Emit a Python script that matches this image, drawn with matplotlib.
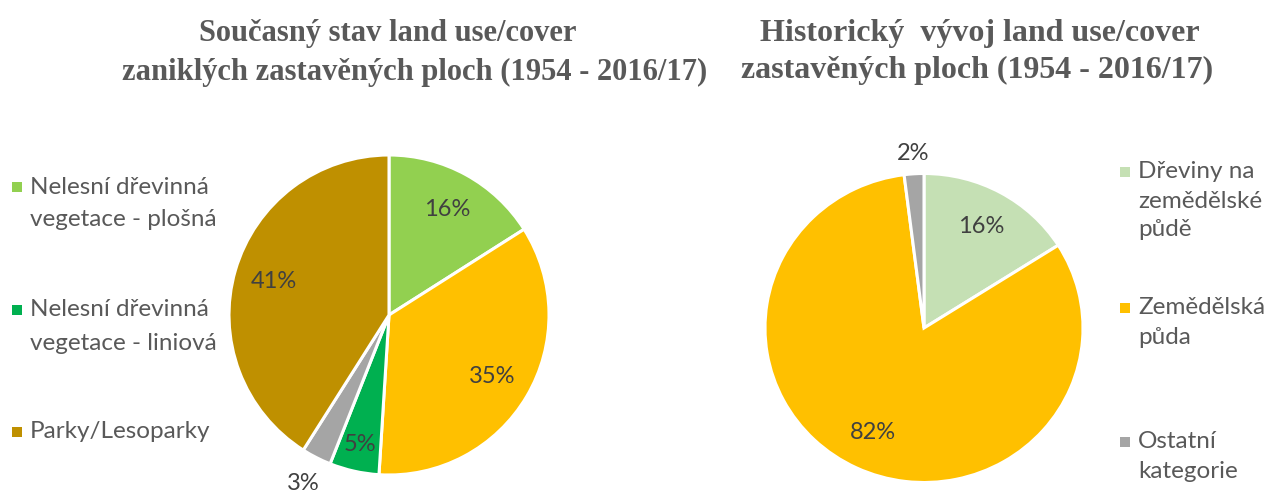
import matplotlib
matplotlib.use("Agg")
import numpy as np
import matplotlib.pyplot as plt
from matplotlib.patches import Rectangle

# --- data ---------------------------------------------------------------
left_title = ["Současný stav land use/cover",
              "zaniklých zastavěných ploch (1954 - 2016/17)"]
left_labels = ["Nelesní dřevinná vegetace - plošná", "Zemědělská půda",
               "Nelesní dřevinná vegetace - liniová", "Ostatní kategorie",
               "Parky/Lesoparky"]
left_values = [16, 35, 5, 3, 41]
left_colors = ["#92D050", "#FFC000", "#00B050", "#A5A5A5", "#BF9000"]

right_title = ["Historický  vývoj land use/cover",
               "zastavěných ploch (1954 - 2016/17)"]
right_labels = ["Dřeviny na zemědělské půdě", "Zemědělská půda", "Ostatní kategorie"]
right_values = [16, 82, 2]
right_colors = ["#C5E0B4", "#FFC000", "#A5A5A5"]

# legend entries (wrapped as in the original)
left_legend = [(0, ["Nelesní dřevinná", "vegetace - plošná"]),
               (2, ["Nelesní dřevinná", "vegetace - liniová"]),
               (4, ["Parky/Lesoparky"])]
right_legend = [(0, ["Dřeviny na", "zemědělské", "půdě"]),
                (1, ["Zemědělská", "půda"]),
                (2, ["Ostatní", "kategorie"])]

W, H = 1270, 493
fig = plt.figure(figsize=(W / 100, H / 100), dpi=100)
fig.patch.set_facecolor("white")

TXT = "#595959"
PCT = "#404040"


def fx(x):
    return x / W


def fy(y):
    return 1 - y / H


def draw_pie(cx, cy, rx, ry, values, colors, special):
    ax = fig.add_axes([fx(cx - rx), (H - cy - ry) / H, 2 * rx / W, 2 * ry / H])
    wedges, texts, autotexts = ax.pie(
        values, colors=colors, startangle=90, counterclock=False,
        autopct="%.0f%%", pctdistance=0.75,
        wedgeprops=dict(edgecolor="white", linewidth=2.2),
        textprops=dict(color=PCT, fontsize=17, family="Lato"))
    ax.set_aspect("auto")
    ax.set_xlim(-1, 1)
    ax.set_ylim(-1, 1)
    for w in wedges:
        w.set_clip_on(False)
    for i, r in special.items():
        w = wedges[i]
        ang = np.deg2rad((w.theta1 + w.theta2) / 2)
        autotexts[i].set_position((r * np.cos(ang), r * np.sin(ang)))
    return ax


draw_pie(389, 315, 160, 160, left_values, left_colors, {2: 0.83, 3: 1.18})
draw_pie(924, 328, 159, 154.5, right_values, right_colors, {2: 1.13})

# titles
for txt, (x, y) in zip(left_title, [(388, 33), (415, 72)]):
    fig.text(fx(x), fy(y), txt, ha="center", va="center", fontsize=22,
             family="Liberation Serif", weight="bold", color=TXT)
for txt, (x, y) in zip(right_title, [(980, 33), (977, 70)]):
    fig.text(fx(x), fy(y), txt, ha="center", va="center", fontsize=23,
             family="Liberation Serif", weight="bold", color=TXT)


def draw_legend(entries, colors, mx, tx, y_starts, gap):
    for (idx, lines), y0 in zip(entries, y_starts):
        fig.add_artist(Rectangle((fx(mx), fy(y0 + 5)), 10 / W, 10 / H,
                                 transform=fig.transFigure,
                                 facecolor=colors[idx], edgecolor="none"))
        for k, line in enumerate(lines):
            fig.text(fx(tx), fy(y0 + k * gap), line, ha="left", va="center",
                     fontsize=17.5, family="Lato", color=TXT)


draw_legend(left_legend, left_colors, 12, 30, [187, 310, 432], 33)
draw_legend(right_legend, right_colors, 1120, 1138, [172, 308, 442], 29)

fig.savefig("out.png", dpi=100, facecolor="white")
